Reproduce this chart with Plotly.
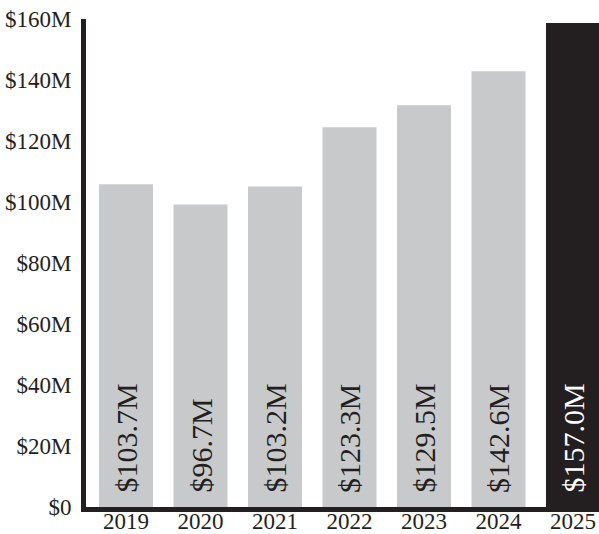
import plotly.graph_objects as go

years = ["2019", "2020", "2021", "2022", "2023", "2024", "2025"]
# bar heights (in $M)
values = [105.8, 99.2, 105.1, 124.5, 131.7, 142.9, 158.7]
labels = ["$103.7M", "$96.7M", "$103.2M", "$123.3M", "$129.5M", "$142.6M", "$157.0M"]
bar_colors = ["#c8c9cb"] * 6 + ["#231f20"]
text_colors = ["#231f20"] * 6 + ["#ffffff"]
tick_vals = [0, 20, 40, 60, 80, 100, 120, 140, 160]
tick_text = ["$0", "$20M", "$40M", "$60M", "$80M", "$100M", "$120M", "$140M", "$160M"]

FONT = "Liberation Serif"
DARK = "#231f20"

xs = list(range(len(years)))
fig = go.Figure(go.Bar(
    x=xs, y=values, marker_color=bar_colors, marker_line_width=0,
    width=0.725, hoverinfo="skip",
))
for xi, lab, tc in zip(xs, labels, text_colors):
    fig.add_annotation(
        x=xi, y=0, xref="x", yref="y", text=lab, showarrow=False,
        textangle=-90, xanchor="center", yanchor="bottom", yshift=13,
        borderpad=0, font=dict(family=FONT, size=30, color=tc),
    )
fig.update_layout(
    width=599, height=534, margin=dict(l=86, r=0, t=19, b=27, autoexpand=False),
    paper_bgcolor="white", plot_bgcolor="white", showlegend=False,
    font=dict(family=FONT, size=23, color=DARK),
)
fig.update_xaxes(
    range=[-0.537, 6.349], tickvals=xs, ticktext=years, automargin=False,
    showgrid=False, zeroline=False, showline=True, linewidth=5, linecolor=DARK,
    ticks="", ticklabelstandoff=-11, tickfont=dict(family=FONT, size=23, color=DARK),
)
fig.update_yaxes(
    range=[0, 160], tickvals=tick_vals, ticktext=tick_text, automargin=False,
    showgrid=False, zeroline=False, showline=True, linewidth=5, linecolor=DARK,
    ticks="", ticklabelstandoff=5, tickfont=dict(family=FONT, size=23, color=DARK),
)
fig.write_html("out.html")
